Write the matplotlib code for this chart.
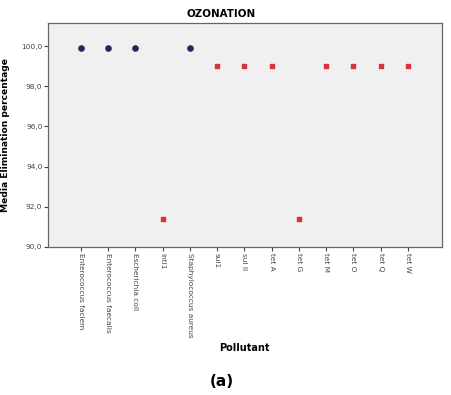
import numpy as np
import matplotlib.pyplot as plt

# Pollutants and their mean elimination (%)
pollutants = ['Enterococcus faciem', 'Enterococcus faecalis', 'Escherichia coli', 'intI1',
              'Staphylococcus aureus', 'sul1', 'sul II', 'tet A', 'tet G', 'tet M',
              'tet O', 'tet Q', 'tet W']
bacteria = ['Enterococcus faciem', 'Enterococcus faecalis', 'Escherichia coli', 'Staphylococcus aureus']
bacteria_vals = [99.9, 99.9, 99.9, 99.9]
genes = ['intI1', 'sul1', 'sul II', 'tet A', 'tet G', 'tet M', 'tet O', 'tet Q', 'tet W']
genes_vals = [91.4, 99.0, 99.0, 99.0, 91.4, 99.0, 99.0, 99.0, 99.0]
yticks = [90, 92, 94, 96, 98, 100]

pos = {p: i for i, p in enumerate(pollutants)}

fig = plt.figure(figsize=(4.51, 3.95), dpi=100)
ax = fig.add_axes([48/451, 1-247/395, (442-48)/451, (247-23)/395])
ax.set_facecolor('#f0f0f0')

ax.scatter([pos[b] for b in bacteria], bacteria_vals, marker='o', s=14,
           color='#25245a', zorder=3)
ax.scatter([pos[g] for g in genes], genes_vals, marker='s', s=10,
           color='#d8343c', zorder=3)

ax.set_xlim(-1.2, 13.25)
ax.set_ylim(90, 101.15)
ax.set_xticks(range(len(pollutants)))
ax.set_xticklabels(pollutants, rotation=270, fontsize=5.3, color='#333333')
ax.set_yticks(yticks)
ax.yaxis.set_major_formatter(plt.FuncFormatter(lambda v, p: ('%.1f' % v).replace('.', ',')))
ax.tick_params(axis='both', length=3, width=0.8, color='#444444', pad=1, labelsize=5.3,
               labelcolor='#444444')

for s in ax.spines.values():
    s.set_color('#666666')
    s.set_linewidth(0.9)

fig.text(221/451, 1 - 14/395, 'OZONATION', fontsize=7.4, fontweight='bold',
         ha='center', va='center')
ax.set_ylabel('Media Elimination percentage', fontsize=6.6, fontweight='bold', labelpad=8)
fig.text(244/451, 1 - 348/395, 'Pollutant', fontsize=7, fontweight='bold',
         ha='center', va='center')
fig.text(222/451, 1 - 382/395, '(a)', fontsize=11, fontweight='bold',
         ha='center', va='center')

fig.savefig('out.png', dpi=100)
